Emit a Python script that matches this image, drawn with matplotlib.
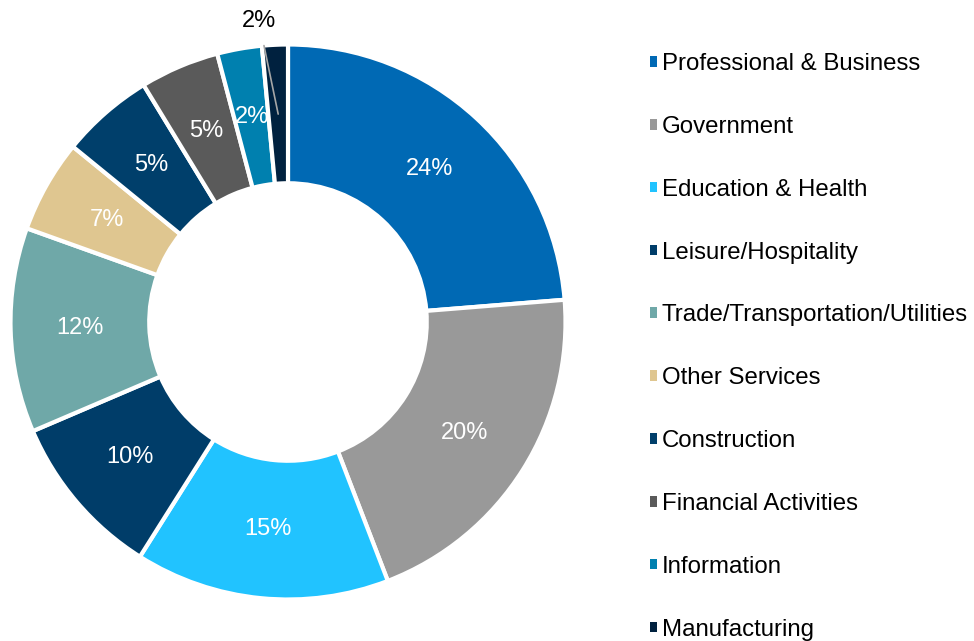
import numpy as np
import matplotlib
matplotlib.use("Agg")
import matplotlib.pyplot as plt

plt.rcParams['font.family'] = ['Liberation Sans', 'DejaVu Sans']

categories = ["Professional & Business", "Government", "Education & Health",
              "Leisure/Hospitality", "Trade/Transportation/Utilities",
              "Other Services", "Construction", "Financial Activities",
              "Information", "Manufacturing"]
shares = [23.7, 20.4, 14.8, 9.6, 11.9, 5.4, 5.4, 4.6, 2.6, 1.5]
label_texts = ["24%", "20%", "15%", "10%", "12%", "7%", "5%", "5%", "2%", "2%"]
colors = ["#0069B4", "#999999", "#21C3FF", "#003D69", "#6FA8A8",
          "#DFC690", "#003F6B", "#5A5A5A", "#0080AF", "#00213F"]

W, H = 974, 641
fig = plt.figure(figsize=(W / 100, H / 100), dpi=100)
cx, cy, R = 288, 641 - 322, 277.5
ax = fig.add_axes([(cx - R) / W, (cy - R) / H, 2 * R / W, 2 * R / H])

wedges, _ = ax.pie(shares, colors=colors, startangle=90, counterclock=False,
                   radius=1.0, wedgeprops=dict(width=0.5, edgecolor="white", linewidth=3))
ax.set_xlim(-1, 1)
ax.set_ylim(-1, 1)
ax.set_aspect("equal")
ax.axis("off")

for i, (w, t) in enumerate(zip(wedges, label_texts)):
    ang = np.deg2rad((w.theta1 + w.theta2) / 2)
    x, y = 0.75 * np.cos(ang), 0.75 * np.sin(ang)
    if i == len(wedges) - 1:
        ax.annotate(t, xy=(x, y), xytext=(-0.105, 1.085), ha="center", va="center",
                    fontsize=17, color="black",
                    arrowprops=dict(arrowstyle="-", color="#A6A6A6", lw=1.2,
                                    shrinkA=8, shrinkB=0),
                    annotation_clip=False)
    else:
        ax.text(x, y, t, ha="center", va="center", fontsize=17, color="white")

leg = fig.legend(wedges, categories, loc="upper left",
                 bbox_to_anchor=(650 / W, 1 - 53 / H),
                 frameon=False, fontsize=17.3, handlelength=0.31, handleheight=0.31,
                 handletextpad=0.17, labelspacing=1.70, borderpad=0, borderaxespad=0)
for h in leg.legend_handles:
    h.set_linewidth(0)

fig.savefig("out.png", dpi=100)
